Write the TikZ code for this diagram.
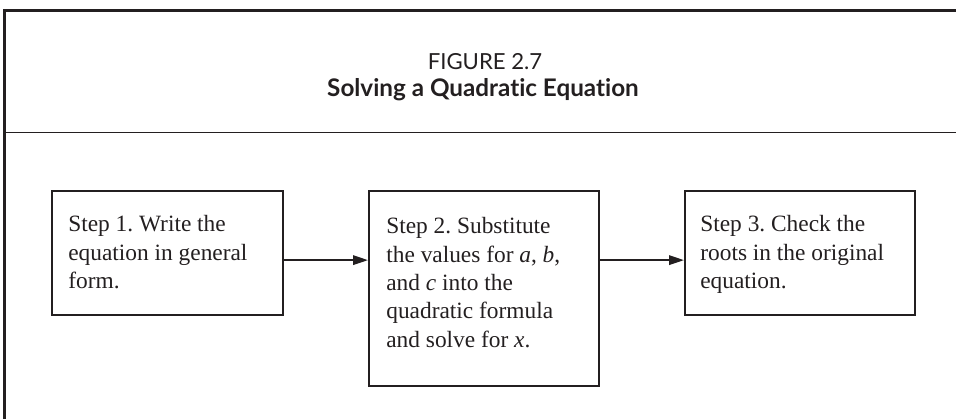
\documentclass[tikz,border=0pt]{standalone}
\usepackage{fontspec}
\setmainfont{Liberation Serif}
\newfontfamily\titlefont[Ligatures=NoCommon]{Lato}
\usetikzlibrary{arrows.meta}
\definecolor{ink}{HTML}{231F20}
\frenchspacing

\begin{document}
\begin{tikzpicture}[
    x=0.02cm, y=-0.02cm,
    frame/.style={draw=ink, line width=1.4pt},
    rule/.style={draw=ink, line width=0.75pt},
    stepbox/.style={draw=ink, line width=1.3pt, inner sep=0pt, anchor=north west,
        minimum width=4.62cm, minimum height=2.48cm},
    steptext/.style={inner sep=0pt, anchor=north west, align=left, text=ink,
        font=\fontsize{13.3pt}{16.2pt}\selectfont},
    flow/.style={-{Triangle[length=0.3cm, width=0.19cm]}, draw=ink, line width=1.1pt}
    ]

    \useasboundingbox (0,0) rectangle (956,419);

    \draw[frame] (4.5,419) -- (4.5,10.3) -- (956,10.3);
    \draw[rule] (4.5,132.3) -- (956,132.3);

    \node[anchor=base, text=ink, font=\titlefont\fontsize{12.6pt}{14pt}\selectfont] (FIG) at (485,69) {FIGURE 2.7};
    \node[anchor=base, text=ink, font=\titlefont\bfseries\fontsize{13.8pt}{15pt}\selectfont] (TITLE) at (483,96) {Solving a Quadratic Equation};

    \node[stepbox] (S1) at (51,190) {};
    \node[stepbox, minimum width=4.6cm, minimum height=3.9cm] (S2) at (368,190) {};
    \node[stepbox, minimum width=4.6cm] (S3) at (684,190) {};

    \node[steptext] (T1) at (68,215) {Step 1. Write the\\equation in general\\form.};
    \node[steptext] (T2) at (386,217) {Step 2. Substitute\\the values for \textit{a}, \textit{b},\\and \textit{c} into the\\quadratic formula\\and solve for \textit{x}.};
    \node[steptext] (T3) at (700,215) {Step 3. Check the\\roots in the original\\equation.};

    \draw[flow] ([yshift=-0.14cm]S1.east) -- ([yshift=-0.14cm]S1.east -| S2.west);
    \draw[flow] ([yshift=-0.14cm]S3.west -| S2.east) -- ([yshift=-0.14cm]S3.west);

\end{tikzpicture}
\end{document}
